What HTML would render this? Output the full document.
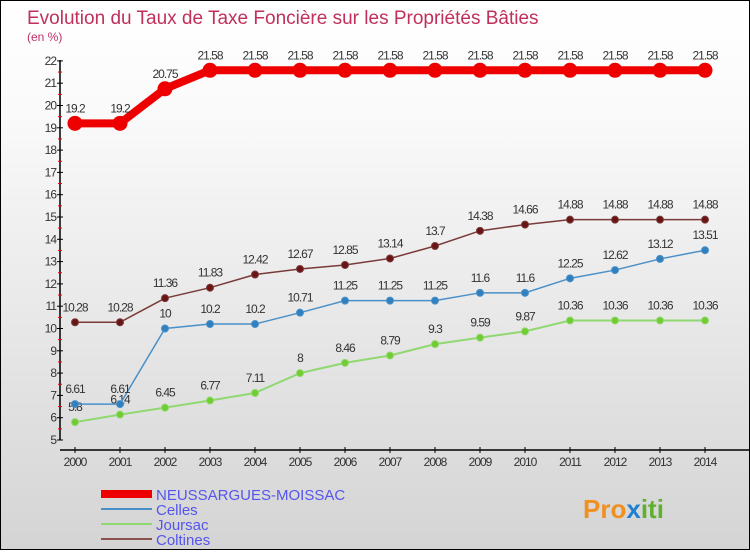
<!DOCTYPE html>
<html><head><meta charset="utf-8"><style>
body{margin:0}
#c{width:748px;height:548px;border:1px solid #000;background:linear-gradient(#fff,#fafafa 20%,#d4d4d4);position:relative;font-family:"Liberation Sans",sans-serif}
</style></head><body>
<div id="c">
<svg id="s" width="748" height="548"></svg>
</div>
<script>
const years=["2000","2001","2002","2003","2004","2005","2006","2007","2008","2009","2010","2011","2012","2013","2014"];
const neussargues=[19.2,19.2,20.75,21.58,21.58,21.58,21.58,21.58,21.58,21.58,21.58,21.58,21.58,21.58,21.58];
const celles=[6.61,6.61,10,10.2,10.2,10.71,11.25,11.25,11.25,11.6,11.6,12.25,12.62,13.12,13.51];
const joursac=[5.8,6.14,6.45,6.77,7.11,8,8.46,8.79,9.3,9.59,9.87,10.36,10.36,10.36,10.36];
const coltines=[10.28,10.28,11.36,11.83,12.42,12.67,12.85,13.14,13.7,14.38,14.66,14.88,14.88,14.88,14.88];
const yTicks=[5,6,7,8,9,10,11,12,13,14,15,16,17,18,19,20,21,22];
const NS="http://www.w3.org/2000/svg",s=document.getElementById('s');
const X=i=>74+i*45,Y=v=>439-(v-5)*22.3;
function el(t,a,txt){const e=document.createElementNS(NS,t);for(const k in a)e.setAttribute(k,a[k]);if(txt!=null)e.textContent=txt;s.appendChild(e);return e;}
let t=el('text',{x:26,y:23,fill:'#c0305a','font-size':19},'Evolution du Taux de Taxe Foncière sur les Propriétés Bâties');


t=el('text',{x:26,y:40,fill:'#c0306a','font-size':12},'(en %)');


let a=el('line',{x1:59,y1:59,x2:59,y2:439,stroke:'#000','stroke-width':1.5});


a=el('line',{x1:59,y1:449,x2:748,y2:449,stroke:'#000','stroke-width':1.5});


yTicks.forEach(v=>{el('line',{x1:56,y1:Y(v),x2:62,y2:Y(v),stroke:'#000'});
if(v<22)el('line',{x1:57,y1:Y(v+0.5),x2:61,y2:Y(v+0.5),stroke:'#e00'});
const l=el('text',{x:55,y:Y(v)+4,'text-anchor':'end','font-size':12,fill:'#333','letter-spacing':-1},v);

});
years.forEach((y,i)=>{el('line',{x1:X(i),y1:446,x2:X(i),y2:452,stroke:'#000'});
const l=el('text',{x:X(i),y:465,'text-anchor':'middle','font-size':12,fill:'#333','letter-spacing':-1},y);

});
function series(d,col,dot,w,r,name){
const p=el('polyline',{points:d.map((v,i)=>X(i)+','+Y(v)).join(' '),fill:'none',stroke:col,'stroke-width':w});


d.forEach((v,i)=>{const c=el('circle',{cx:X(i),cy:Y(v),r:r,fill:dot,stroke:col,'stroke-width':1});


const l=el('text',{x:X(i),y:Y(v)-11,'text-anchor':'middle','font-size':12,fill:'#333','letter-spacing':-1},v);

});}
series(coltines,'#7a3a3a','#6a1515',1.5,3.5,'coltines');
series(joursac,'#90d870','#70cc30',2,3.5,'joursac');
series(celles,'#4a90c8','#3080c0',1.5,3.5,'celles');
series(neussargues,'#e00','#e00',8,7,'neussargues');
const leg=[['NEUSSARGUES-MOISSAC','#e00',8],['Celles','#4a90c8',2],['Joursac','#90d870',2],['Coltines','#8a5050',2]];
leg.forEach((L,i)=>{const y=493+i*15;el('line',{x1:100,y1:y,x2:151,y2:y,stroke:L[1],'stroke-width':L[2]});
const l=el('text',{x:155,y:y+6,'font-size':15,fill:'#5555ee'},L[0]);

});
t=el('text',{x:582,y:517,'font-size':26,'font-weight':'bold',fill:'#f09020'});


t.innerHTML='<tspan>Pro</tspan><tspan fill="#2080d0">x</tspan><tspan fill="#60b030">iti</tspan>';
</script>
</body></html>
